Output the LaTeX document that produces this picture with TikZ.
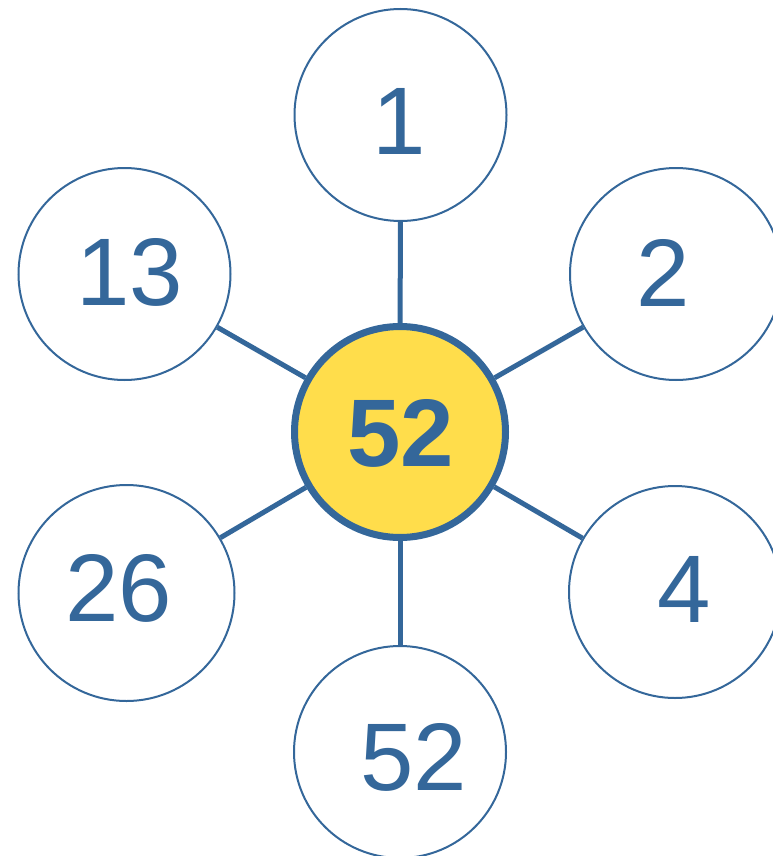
\documentclass[tikz,border=0pt]{standalone}
\usepackage{fontspec}
\setmainfont{Liberation Sans}
\definecolor{myblue}{RGB}{52,103,154}
\definecolor{myyellow}{RGB}{255,221,75}
\begin{document}
\begin{tikzpicture}[x=1pt,y=-1pt,
  outer/.style={circle,draw=myblue,line width=2pt,fill=white,minimum size=212pt,inner sep=0pt},
  hub/.style={circle,draw=myblue,line width=7pt,fill=myyellow,minimum size=211pt,inner sep=0pt},
  num/.style={inner sep=0pt,text=myblue,font=\fontsize{96}{96}\selectfont},
  conn/.style={draw=myblue,line width=5pt}]
\useasboundingbox (0,0) rectangle (773,856);
\clip (0,0) rectangle (773,856);
\node[hub] (c) at (400,432) {};
\node[outer] (n1) at (400.5,115) {};
\node[outer] (n2) at (676,274) {};
\node[outer] (n4) at (675,592) {};
\node[outer] (n52) at (400,752) {};
\node[outer,minimum size=216pt] (n26) at (126.5,593) {};
\node[outer] (n13) at (124.5,274) {};
\draw[conn] (c) -- (n1);
\draw[conn] (c) -- (n2);
\draw[conn] (c) -- (n4);
\draw[conn] (c) -- (n52);
\draw[conn] (c) -- (n26);
\draw[conn] (c) -- (n13);
\node[num,font=\fontsize{96}{96}\selectfont\bfseries] (t0) at (400.5,433.5) {52};
\node[num] (t1) at (399,121.5) {1};
\node[num] (t2) at (663.5,272.5) {2};
\node[num] (t4) at (684.5,589.5) {4};
\node[num] (t52) at (414,757.5) {52};
\node[num] (t26) at (118.5,588.5) {26};
\node[num] (t13) at (130,272.5) {13};
\end{tikzpicture}
\end{document}
